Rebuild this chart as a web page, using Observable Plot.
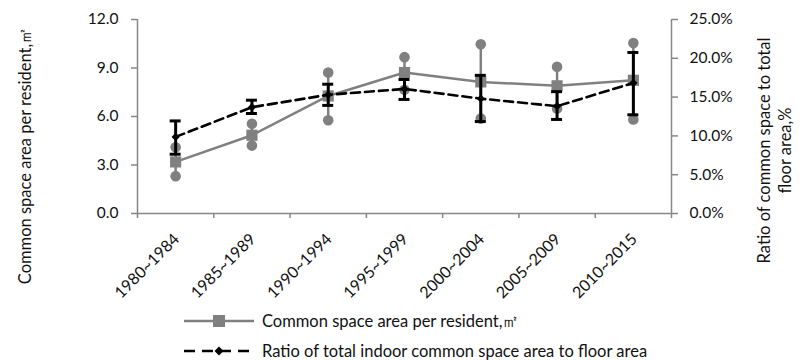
<!DOCTYPE html>
<html>
<head>
<meta charset="utf-8">
<script src="https://cdn.jsdelivr.net/npm/d3@7"></script>
<script src="https://cdn.jsdelivr.net/npm/@observablehq/plot@0.6"></script>
<style>
  html, body { margin: 0; padding: 0; background: #fff; }
  #wrap { position: relative; width: 805px; height: 360px; overflow: hidden; font-family: Lato, sans-serif; color: #111; }
  #chart { position: absolute; left: 0; top: 0; }
  .leg { position: absolute; left: 184px; height: 20px; line-height: 20px; display: flex; align-items: center; font-size: 16.5px; white-space: nowrap; }
  .leg span { margin-left: 8px; }
</style>
</head>
<body>
<div id="wrap"><div id="chart"></div></div>
<script>
// ---- data ----
const periods = ["1980~1984", "1985~1989", "1990~1994", "1995~1999", "2000~2004", "2005~2009", "2010~2015"];
// Common space area per resident (m²): mean, max, min
const areaMean = [3.19, 4.84, 7.27, 8.72, 8.14, 7.90, 8.24];
const areaMax  = [4.10, 5.55, 8.72, 9.67, 10.47, 9.07, 10.55];
const areaMin  = [2.31, 4.20, 5.77, 7.65, 5.87, 6.49, 5.81];
// Ratio of indoor common space area to floor area (%): mean, high, low
const ratioMean = [9.87, 13.70, 15.30, 16.05, 14.80, 13.83, 16.83];
const ratioHigh = [11.93, 14.60, 16.66, 17.27, 17.80, 15.70, 20.75];
const ratioLow  = [7.64, 12.89, 13.93, 14.70, 11.85, 12.12, 12.72];
// axis ticks
const leftTicks = [0, 3, 6, 9, 12];
const rightTicks = [0, 5, 10, 15, 20, 25];
const leftTitle = "Common space area per resident,㎡";
const rightTitle = "Ratio of common space to total\nfloor area,%";
const legend1 = "Common space area per resident,㎡";
const legend2 = "Ratio of total indoor common space area to floor area";

// ---- helpers ----
const leftMax = 12, rightMax = 25;
const toLeft = v => v * leftMax / rightMax;
const rows = periods.map((p, i) => ({
  p, x: i + 0.5,
  areaMean: areaMean[i], areaMax: areaMax[i], areaMin: areaMin[i],
  rMean: toLeft(ratioMean[i]), rHigh: toLeft(ratioHigh[i]), rLow: toLeft(ratioLow[i])
}));

const gray = "#808080";
const axisColor = "#878787";
const fs = 15.5;
const titleFs = 16.5;

const chart = Plot.plot({
  width: 805,
  height: 300,
  marginLeft: 137,
  marginRight: 134,
  marginTop: 19,
  marginBottom: 87,
  style: { fontFamily: "Lato, sans-serif", fontSize: fs + "px", color: "#111", background: "white", overflow: "visible" },
  x: { type: "linear", domain: [0, periods.length], axis: null },
  y: { domain: [0, leftMax], axis: null },
  marks: [
    // axis lines
    Plot.ruleY([0], { stroke: axisColor, strokeWidth: 1.5 }),
    Plot.ruleX([0, periods.length], { stroke: axisColor, strokeWidth: 1.5 }),
    // x ticks at category boundaries
    Plot.axisX({ ticks: d3.range(periods.length + 1), tickSize: 5, tickFormat: () => "", stroke: axisColor, strokeWidth: 1.5, label: null }),
    // x category labels
    Plot.text(rows, { x: "x", y: 0, text: "p", rotate: -45, textAnchor: "end", dx: 1, dy: 23, fontSize: 16, fill: "#111" }),
    // left axis
    Plot.axisY({ ticks: leftTicks, tickSize: 6, tickPadding: 13, tickFormat: d3.format(".1f"), stroke: axisColor, strokeWidth: 1.5, label: null, fontSize: fs }),
    // right axis
    Plot.axisY({ anchor: "right", ticks: rightTicks.map(toLeft), tickSize: 6, tickPadding: 12,
      tickFormat: v => (v * rightMax / leftMax).toFixed(1) + "%", stroke: axisColor, strokeWidth: 1.5, label: null, fontSize: fs }),
    // axis titles
    Plot.text([leftTitle], { frameAnchor: "left", textAnchor: "middle", dx: -112, dy: 39, rotate: -90, fontSize: titleFs, fill: "#111" }),
    Plot.text([rightTitle], { frameAnchor: "right", textAnchor: "middle", dx: 102, dy: 34, rotate: -90, fontSize: titleFs, lineHeight: 1.3, fill: "#111" }),

    // gray series: range bars, line, end circles, squares
    Plot.ruleX(rows, { x: "x", y1: "areaMin", y2: "areaMax", stroke: gray, strokeWidth: 2.5 }),
    Plot.line(rows, { x: "x", y: "areaMean", stroke: gray, strokeWidth: 2.5 }),
    Plot.dot(rows, { x: "x", y: "areaMax", r: 5.3, fill: gray }),
    Plot.dot(rows, { x: "x", y: "areaMin", r: 5.3, fill: gray }),
    Plot.dot(rows, { x: "x", y: "areaMean", symbol: "square", r: 6.3, fill: gray }),

    // black series: dashed line, error bars with caps, diamonds
    Plot.line(rows, { x: "x", y: "rMean", stroke: "black", strokeWidth: 2.6, strokeDasharray: "9,5" }),
    Plot.ruleX(rows, { x: "x", y1: "rLow", y2: "rHigh", stroke: "black", strokeWidth: 3 }),
    Plot.ruleY(rows, { y: "rHigh", x1: d => d.x - 0.072, x2: d => d.x + 0.072, stroke: "black", strokeWidth: 3 }),
    Plot.ruleY(rows, { y: "rLow", x1: d => d.x - 0.072, x2: d => d.x + 0.072, stroke: "black", strokeWidth: 3 }),
    Plot.dot(rows, { x: "x", y: "rMean", symbol: "diamond2", r: 3.7, fill: "black" })
  ]
});
document.getElementById("chart").appendChild(chart);

// ---- legend (below the plot) ----
const wrap = document.getElementById("wrap");
function legendRow(top, sampleSvg, label) {
  const d = document.createElement("div");
  d.className = "leg";
  d.style.top = top + "px";
  d.innerHTML = sampleSvg + "<span>" + label + "</span>";
  wrap.appendChild(d);
}
legendRow(311,
  `<svg width="70" height="20"><line x1="0" x2="70" y1="10" y2="10" stroke="${gray}" stroke-width="2.5"/><rect x="29" y="4" width="12" height="12" fill="${gray}"/></svg>`,
  legend1);
legendRow(341,
  `<svg width="70" height="20"><line x1="0" x2="70" y1="10" y2="10" stroke="black" stroke-width="2.6" stroke-dasharray="11,7"/><path d="M35,5.5L39.5,10L35,14.5L30.5,10Z" fill="black"/></svg>`,
  legend2);
</script>
</body>
</html>
